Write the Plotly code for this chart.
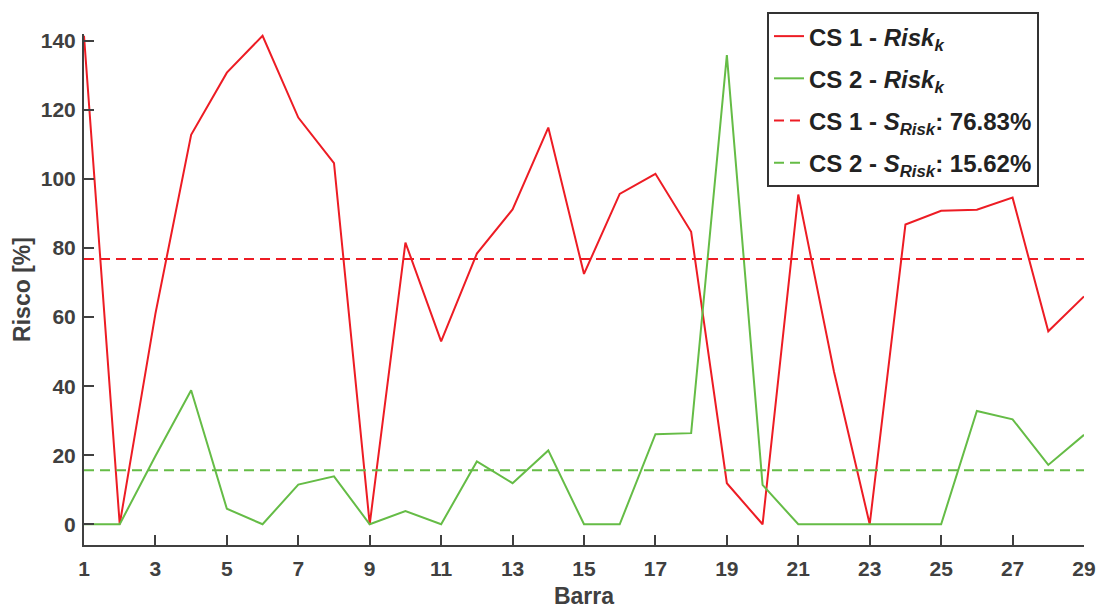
import plotly.graph_objects as go

barra = list(range(1, 30))
cs1_risk = [141.5, 0, 61, 112.8, 130.8, 141.5, 117.8, 104.6, 0, 81.6,
            53.0, 78.4, 91.2, 114.9, 72.5, 95.7, 101.5, 84.7, 11.9, 0,
            95.5, 44.2, 0, 86.8, 90.8, 91.1, 94.6, 55.9, 66.0]
cs2_risk = [0, 0, 19.8, 38.8, 4.5, 0, 11.5, 13.9, 0, 3.8,
            0, 18.2, 11.9, 21.4, 0, 0, 26.1, 26.4, 135.9, 11.4,
            0, 0, 0, 0, 0, 32.8, 30.4, 17.2, 25.9]
cs1_mean = 76.83
cs2_mean = 15.62
x_ticks = list(range(1, 30, 2))
y_ticks = list(range(0, 141, 20))

RED = "rgb(237,28,36)"
GREEN = "rgb(101,188,70)"
AX = "#404040"
FONT = "Liberation Sans, Arial, sans-serif"

fig = go.Figure()
fig.add_trace(go.Scatter(x=barra, y=cs1_risk, mode="lines", legendgroup="a",
                         line=dict(color=RED, width=2),
                         name="<b>CS 1 - <i>Risk</i><sub><i>k</i></sub></b>"))
fig.add_trace(go.Scatter(x=barra, y=cs2_risk, mode="lines", legendgroup="b",
                         line=dict(color=GREEN, width=2),
                         name="<b>CS 2 - <i>Risk</i><sub><i>k</i></sub></b>"))
fig.add_trace(go.Scatter(x=[barra[0], barra[-1]], y=[cs1_mean, cs1_mean], mode="lines",
                         legendgroup="c",
                         line=dict(color=RED, width=2, dash="10px,6px"),
                         name="<b>CS 1 - <i>S</i><sub><i>Risk</i></sub>: %.2f%%</b>" % cs1_mean))
fig.add_trace(go.Scatter(x=[barra[0], barra[-1]], y=[cs2_mean, cs2_mean], mode="lines",
                         legendgroup="d",
                         line=dict(color=GREEN, width=2, dash="10px,6px"),
                         name="<b>CS 2 - <i>S</i><sub><i>Risk</i></sub>: %.2f%%</b>" % cs2_mean))

fig.update_layout(
    width=1096, height=609,
    margin=dict(l=84, r=12, t=31, b=64),
    plot_bgcolor="white", paper_bgcolor="white",
    font=dict(family=FONT, color=AX, size=20),
    showlegend=True,
    legend=dict(x=0.683, y=1.043, xanchor="left", yanchor="top",
                bgcolor="white", bordercolor="#333333", borderwidth=2,
                tracegroupgap=8,
                font=dict(family=FONT, size=24, color="#222222")),
    xaxis=dict(range=[1, 29], tickmode="array", tickvals=x_ticks,
               ticks="inside", ticklen=10, tickwidth=2, tickcolor=AX,
               showline=True, linecolor=AX, linewidth=2, showgrid=False, zeroline=False,
               automargin=False, ticklabelstandoff=4,
               tickfont=dict(size=21, color=AX, family=FONT, weight="bold"),
               title=dict(text="<b>Barra</b>", font=dict(size=23, color=AX), standoff=14)),
    yaxis=dict(range=[-6, 142], tickmode="array", tickvals=y_ticks,
               ticks="inside", ticklen=10, tickwidth=2, tickcolor=AX,
               showline=True, linecolor=AX, linewidth=2, showgrid=False, zeroline=False,
               automargin=False, ticklabelstandoff=2,
               tickfont=dict(size=21, color=AX, family=FONT, weight="bold"),
               title=dict(text="<b>Risco [%]</b>", font=dict(size=23, color=AX), standoff=4)),
)

fig.write_html("out.html")
